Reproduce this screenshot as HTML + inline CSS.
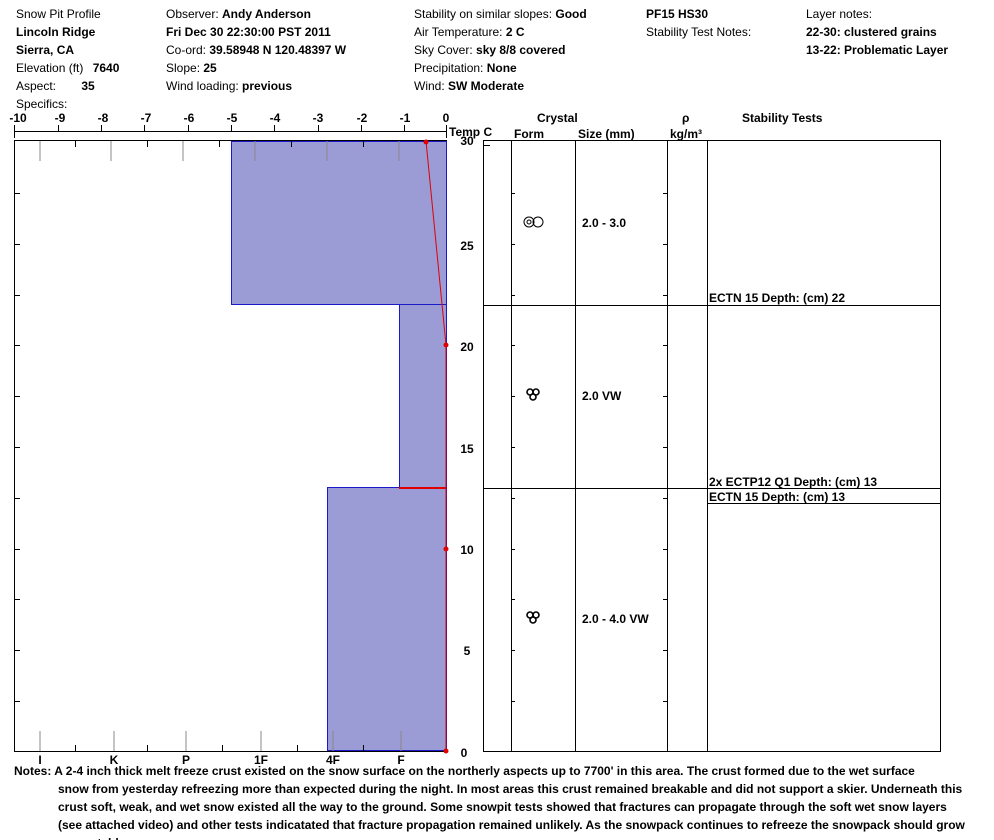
<!DOCTYPE html><html><head><style>body{margin:0;background:#fff}svg{display:block}text{font-family:"Liberation Sans",Arial,sans-serif;font-size:12px}.b{font-weight:bold}</style></head><body>
<svg width="994" height="840" xmlns="http://www.w3.org/2000/svg">
<g>
<text x="16" y="18">Snow Pit Profile</text>
<text x="16" y="36" class="b">Lincoln Ridge</text>
<text x="16" y="54" class="b">Sierra, CA</text>
<text x="16" y="72">Elevation (ft)  <tspan class="b" dx="6">7640</tspan></text>
<text x="16" y="90">Aspect: <tspan class="b" dx="22">35</tspan></text>
<text x="16" y="108">Specifics:</text>
<text x="166" y="18">Observer:  <tspan class="b">Andy Anderson</tspan></text>
<text x="166" y="36" class="b">Fri Dec 30 22:30:00 PST 2011</text>
<text x="166" y="54">Co-ord:  <tspan class="b">39.58948 N 120.48397 W</tspan></text>
<text x="166" y="72">Slope:  <tspan class="b">25</tspan></text>
<text x="166" y="90">Wind loading:  <tspan class="b">previous</tspan></text>
<text x="414" y="18">Stability on similar slopes:  <tspan class="b">Good</tspan></text>
<text x="414" y="36">Air Temperature:  <tspan class="b">2 C</tspan></text>
<text x="414" y="54">Sky Cover:  <tspan class="b">sky 8/8 covered</tspan></text>
<text x="414" y="72">Precipitation:  <tspan class="b">None</tspan></text>
<text x="414" y="90">Wind:  <tspan class="b">SW Moderate</tspan></text>
<text x="646" y="18" class="b">PF15 HS30</text>
<text x="646" y="36">Stability Test Notes:</text>
<text x="806" y="18">Layer notes:</text>
<text x="806" y="36" class="b">22-30: clustered grains</text>
<text x="806" y="54" class="b">13-22: Problematic Layer</text>
</g>
<!-- temp axis -->
<g stroke="#000" stroke-width="1">
<line x1="14" y1="131.5" x2="447" y2="131.5"/>
<line x1="14.5" y1="125" x2="14.5" y2="138"/>
<line x1="58.5" y1="125" x2="58.5" y2="132"/><line x1="101.5" y1="125" x2="101.5" y2="132"/><line x1="144.5" y1="125" x2="144.5" y2="132"/><line x1="188.5" y1="125" x2="188.5" y2="132"/><line x1="231.5" y1="125" x2="231.5" y2="132"/><line x1="274.5" y1="125" x2="274.5" y2="132"/><line x1="318.5" y1="125" x2="318.5" y2="132"/><line x1="361.5" y1="125" x2="361.5" y2="132"/><line x1="404.5" y1="125" x2="404.5" y2="132"/><line x1="446.5" y1="125" x2="446.5" y2="138"/>
</g>
<g class="b" font-weight="bold" text-anchor="middle">
<text x="18" y="122">-10</text><text x="60" y="122">-9</text><text x="103" y="122">-8</text><text x="146" y="122">-7</text><text x="189" y="122">-6</text><text x="232" y="122">-5</text><text x="275" y="122">-4</text><text x="318" y="122">-3</text><text x="362" y="122">-2</text><text x="405" y="122">-1</text><text x="446" y="122">0</text>
</g>
<text x="449" y="136" class="b">Temp C</text>
<!-- layers -->
<g fill="#9b9bd6" stroke="#1a1ac8">
<rect x="231.5" y="141.5" width="215" height="163"/>
<rect x="399.5" y="304.5" width="47" height="183"/>
<rect x="327.5" y="487.5" width="119" height="263"/>
</g>
<!-- box -->
<g stroke="#000" fill="none">
<line x1="14.5" y1="140" x2="14.5" y2="751"/>
<line x1="14" y1="140.5" x2="447" y2="140.5"/>
<line x1="14" y1="751.5" x2="447" y2="751.5"/>
</g>
<g stroke="#888">
<line x1="40" y1="141" x2="40" y2="161"/><line x1="111" y1="141" x2="111" y2="161"/><line x1="183" y1="141" x2="183" y2="161"/><line x1="255" y1="141" x2="255" y2="161"/><line x1="327" y1="141" x2="327" y2="161"/><line x1="399" y1="141" x2="399" y2="161"/>
<line x1="40" y1="731" x2="40" y2="751"/><line x1="114" y1="731" x2="114" y2="751"/><line x1="186" y1="731" x2="186" y2="751"/><line x1="261" y1="731" x2="261" y2="751"/><line x1="333" y1="731" x2="333" y2="751"/><line x1="401" y1="731" x2="401" y2="751"/>
</g>
<g stroke="#000">
<line x1="75.5" y1="141" x2="75.5" y2="147"/><line x1="147.5" y1="141" x2="147.5" y2="147"/><line x1="219.5" y1="141" x2="219.5" y2="147"/><line x1="291.5" y1="141" x2="291.5" y2="147"/><line x1="363.5" y1="141" x2="363.5" y2="147"/>
<line x1="75.5" y1="745" x2="75.5" y2="751"/><line x1="147.5" y1="745" x2="147.5" y2="751"/><line x1="222.5" y1="745" x2="222.5" y2="751"/><line x1="297.5" y1="745" x2="297.5" y2="751"/><line x1="363.5" y1="745" x2="363.5" y2="751"/>
<line x1="14" y1="193.5" x2="20" y2="193.5"/><line x1="14" y1="244.5" x2="20" y2="244.5"/><line x1="14" y1="295.5" x2="20" y2="295.5"/><line x1="14" y1="345.5" x2="20" y2="345.5"/><line x1="14" y1="396.5" x2="20" y2="396.5"/><line x1="14" y1="447.5" x2="20" y2="447.5"/><line x1="14" y1="498.5" x2="20" y2="498.5"/><line x1="14" y1="549.5" x2="20" y2="549.5"/><line x1="14" y1="599.5" x2="20" y2="599.5"/><line x1="14" y1="650.5" x2="20" y2="650.5"/><line x1="14" y1="701.5" x2="20" y2="701.5"/>
</g>
<g font-weight="bold" text-anchor="middle">
<text x="40" y="764">I</text><text x="114" y="764">K</text><text x="186" y="764">P</text><text x="261" y="764">1F</text><text x="333" y="764">4F</text><text x="401" y="764">F</text>
</g>
<!-- temp profile -->
<g stroke="#e00000" fill="#e00000">
<polyline points="426,141 446,345 446,751" fill="none"/>
<line x1="399" y1="488" x2="446" y2="488" stroke-width="2"/>
<circle cx="426" cy="142" r="2"/><circle cx="446" cy="345" r="2"/><circle cx="446" cy="549" r="2"/><circle cx="446" cy="751" r="2"/>
</g>
<!-- depth labels -->
<g font-weight="bold" text-anchor="middle">
<text x="467" y="145">30</text><text x="467" y="250">25</text><text x="467" y="351">20</text><text x="467" y="453">15</text><text x="467" y="554">10</text><text x="467" y="655">5</text><text x="464" y="757">0</text>
</g>
<!-- right table -->
<g stroke="#000" fill="none">
<rect x="483.5" y="140.5" width="457" height="611"/>
<line x1="511.5" y1="141" x2="511.5" y2="751"/><line x1="575.5" y1="141" x2="575.5" y2="751"/><line x1="667.5" y1="141" x2="667.5" y2="751"/><line x1="707.5" y1="141" x2="707.5" y2="751"/>
<line x1="483" y1="305.5" x2="941" y2="305.5"/><line x1="483" y1="488.5" x2="941" y2="488.5"/><line x1="707" y1="503.5" x2="941" y2="503.5"/>
<line x1="511" y1="193.5" x2="515" y2="193.5"/><line x1="511" y1="244.5" x2="515" y2="244.5"/><line x1="511" y1="295.5" x2="515" y2="295.5"/><line x1="511" y1="345.5" x2="515" y2="345.5"/><line x1="511" y1="396.5" x2="515" y2="396.5"/><line x1="511" y1="447.5" x2="515" y2="447.5"/><line x1="511" y1="498.5" x2="515" y2="498.5"/><line x1="511" y1="549.5" x2="515" y2="549.5"/><line x1="511" y1="599.5" x2="515" y2="599.5"/><line x1="511" y1="650.5" x2="515" y2="650.5"/><line x1="511" y1="701.5" x2="515" y2="701.5"/>
<line x1="663" y1="193.5" x2="667" y2="193.5"/><line x1="663" y1="244.5" x2="667" y2="244.5"/><line x1="663" y1="295.5" x2="667" y2="295.5"/><line x1="663" y1="345.5" x2="667" y2="345.5"/><line x1="663" y1="396.5" x2="667" y2="396.5"/><line x1="663" y1="447.5" x2="667" y2="447.5"/><line x1="663" y1="498.5" x2="667" y2="498.5"/><line x1="663" y1="549.5" x2="667" y2="549.5"/><line x1="663" y1="599.5" x2="667" y2="599.5"/><line x1="663" y1="650.5" x2="667" y2="650.5"/><line x1="663" y1="701.5" x2="667" y2="701.5"/>
<line x1="483" y1="145.5" x2="490" y2="145.5"/>
<!-- symbols -->
<circle cx="529" cy="222" r="5"/><circle cx="529" cy="222" r="2"/><circle cx="538" cy="222" r="5"/>
<g stroke-width="1.6"><circle cx="530" cy="392" r="3"/><circle cx="536" cy="392" r="3"/><circle cx="533" cy="397" r="3"/>
<circle cx="530" cy="615" r="3"/><circle cx="536" cy="615" r="3"/><circle cx="533" cy="620" r="3"/></g>
</g>
<g font-weight="bold">
<text x="537" y="122">Crystal</text><text x="514" y="138">Form</text><text x="578" y="138">Size (mm)</text>
<text x="682" y="122">ρ</text><text x="670" y="138">kg/m³</text><text x="742" y="122">Stability Tests</text>
<text x="582" y="227">2.0 - 3.0</text><text x="582" y="400">2.0 VW</text><text x="582" y="623">2.0 - 4.0 VW</text>
<text x="709" y="302">ECTN 15   Depth: (cm) 22</text>
<text x="709" y="486">2x ECTP12 Q1 Depth: (cm) 13</text>
<text x="709" y="501">ECTN 15   Depth: (cm) 13</text>
<text x="14" y="775">Notes:  A 2-4 inch thick melt freeze crust existed on the snow surface on the northerly aspects up to 7700' in this area. The crust formed due to the wet surface</text>
<text x="58" y="793">snow from yesterday refreezing more than expected during the night. In most areas this crust remained breakable and did not support a skier. Underneath this</text>
<text x="58" y="811">crust soft, weak, and wet snow existed all the way to the ground. Some snowpit tests showed that fractures can propagate through the soft wet snow layers</text>
<text x="58" y="829">(see attached video) and other tests indicatated that fracture propagation remained unlikely. As the snowpack continues to refreeze the snowpack should grow</text>
<text x="58" y="847">more stable.</text>
</g>
</svg></body></html>
